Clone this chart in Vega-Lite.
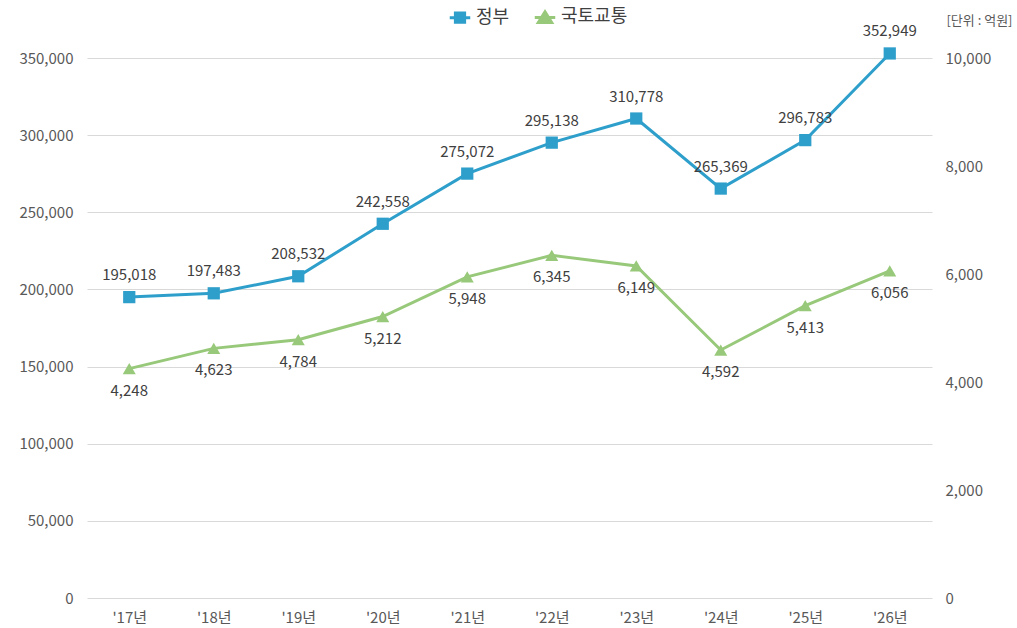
{
  "$schema": "https://vega.github.io/schema/vega-lite/v6.json",
  "width": 845,
  "height": 540,
  "autosize": {"type": "none"},
  "padding": {"left": 87, "top": 58, "right": 85, "bottom": 30},
  "config": {"view": {"stroke": null}, "font": "Noto Sans CJK KR"},
  "data": {
    "values": [
      {"year": "'17년", "series": "정부", "value": 195018},
      {"year": "'18년", "series": "정부", "value": 197483},
      {"year": "'19년", "series": "정부", "value": 208532},
      {"year": "'20년", "series": "정부", "value": 242558},
      {"year": "'21년", "series": "정부", "value": 275072},
      {"year": "'22년", "series": "정부", "value": 295138},
      {"year": "'23년", "series": "정부", "value": 310778},
      {"year": "'24년", "series": "정부", "value": 265369},
      {"year": "'25년", "series": "정부", "value": 296783},
      {"year": "'26년", "series": "정부", "value": 352949},
      {"year": "'17년", "series": "국토교통", "value": 4248},
      {"year": "'18년", "series": "국토교통", "value": 4623},
      {"year": "'19년", "series": "국토교통", "value": 4784},
      {"year": "'20년", "series": "국토교통", "value": 5212},
      {"year": "'21년", "series": "국토교통", "value": 5948},
      {"year": "'22년", "series": "국토교통", "value": 6345},
      {"year": "'23년", "series": "국토교통", "value": 6149},
      {"year": "'24년", "series": "국토교통", "value": 4592},
      {"year": "'25년", "series": "국토교통", "value": 5413},
      {"year": "'26년", "series": "국토교통", "value": 6056}
    ]
  },
  "encoding": {
    "x": {
      "field": "year", "type": "ordinal", "sort": null,
      "scale": {"type": "point", "padding": 0.5},
      "axis": {"title": null, "labelFontSize": 15, "labelColor": "#595959", "domain": false, "ticks": false, "labelPadding": 12, "labelAngle": 0, "grid": false}
    }
  },
  "layer": [
    {
      "transform": [{"filter": "datum.series == '정부'"}],
      "encoding": {
        "y": {
          "field": "value", "type": "quantitative",
          "scale": {"domain": [0, 350000], "nice": false},
          "axis": {"title": null, "orient": "left", "format": ",.0f", "values": [0, 50000, 100000, 150000, 200000, 250000, 300000, 350000], "labelFontSize": 15, "labelColor": "#595959", "domain": false, "ticks": false, "gridColor": "#d9d9d9", "labelPadding": 14}
        }
      },
      "layer": [
        {
          "mark": {"type": "line", "strokeWidth": 3},
          "encoding": {
            "color": {
              "field": "series", "type": "nominal",
              "scale": {"domain": ["정부", "국토교통"], "range": ["#2E9FCB", "#98C97A"]},
              "legend": {
                "title": null, "orient": "none", "legendX": 361, "legendY": -53, "direction": "horizontal",
                "labelFontSize": 18, "labelColor": "#404040", "symbolSize": 420, "columnPadding": 18, "labelOffset": 4,
                "encode": {
                  "symbols": {
                    "update": {
                      "shape": {"signal": "datum.value == '정부' ? 'M-1,0H1M-0.45,-0.45H0.45V0.45H-0.45Z' : 'M-1,0H1M0,-0.55L0.65,0.5H-0.65Z'"},
                      "fill": {"signal": "datum.value == '정부' ? '#2E9FCB' : '#98C97A'"},
                      "stroke": {"signal": "datum.value == '정부' ? '#2E9FCB' : '#98C97A'"},
                      "strokeWidth": {"value": 3},
                      "opacity": {"value": 1}
                    }
                  }
                }
              }
            }
          }
        },
        {
          "mark": {"type": "point", "shape": "square", "filled": true, "size": 150, "opacity": 1, "color": "#2E9FCB"}
        },
        {
          "mark": {"type": "text", "dy": -22, "fontSize": 15, "color": "#404040"},
          "encoding": {"text": {"field": "value", "type": "quantitative", "format": ","}}
        }
      ]
    },
    {
      "transform": [{"filter": "datum.series == '국토교통'"}],
      "encoding": {
        "y": {
          "field": "value", "type": "quantitative",
          "scale": {"domain": [0, 10000], "nice": false},
          "axis": {"title": "[단위 : 억원]", "orient": "right", "format": ",.0f", "values": [0, 2000, 4000, 6000, 8000, 10000], "labelFontSize": 15, "labelColor": "#595959", "domain": false, "ticks": false, "grid": false, "labelPadding": 13,
            "titleAngle": 0, "titleFontSize": 13, "titleFontWeight": "normal", "titleColor": "#595959", "titleX": 80, "titleY": -38, "titleAlign": "right", "titleBaseline": "middle"}
        }
      },
      "layer": [
        {
          "mark": {"type": "line", "strokeWidth": 3},
          "encoding": {"color": {"field": "series", "type": "nominal"}}
        },
        {
          "mark": {"type": "point", "shape": "triangle-up", "filled": true, "size": 170, "opacity": 1, "color": "#98C97A"}
        },
        {
          "mark": {"type": "text", "dy": 22, "fontSize": 15, "color": "#404040"},
          "encoding": {"text": {"field": "value", "type": "quantitative", "format": ","}}
        }
      ]
    }
  ],
  "resolve": {"scale": {"y": "independent"}}
}
